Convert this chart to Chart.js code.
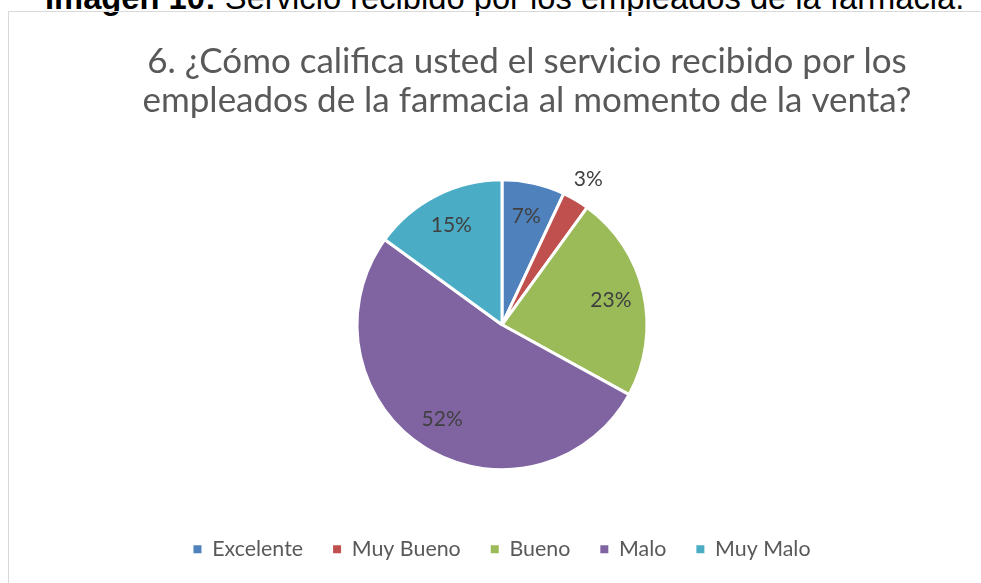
<!DOCTYPE html>
<html><head><meta charset="utf-8">
<script src="https://cdn.jsdelivr.net/npm/chart.js@4/dist/chart.umd.min.js"></script>
<style>
html,body{margin:0;padding:0;background:#fff;overflow:hidden;width:981px;height:583px}
#cap{position:absolute;left:45px;top:-21px;font-family:"Liberation Sans",Arial,sans-serif;font-size:32.7px;line-height:38px;white-space:nowrap;color:#000}
#frame{position:absolute;left:8px;top:11px;width:1100px;height:700px;border:1px solid #d9d9d9;box-sizing:border-box}
#wrap{position:absolute;left:0;top:0;width:981px;height:583px}
</style></head><body>
<div id="cap"><b>Imagen 10:</b> Servicio recibido por los empleados de la farmacia.</div>
<div id="frame"></div>
<div id="wrap"><canvas id="c" width="981" height="583"></canvas></div>
<script>
const categories = ['Excelente', 'Muy Bueno', 'Bueno', 'Malo', 'Muy Malo'];
const values = [7, 3, 23, 52, 15];
const colors = ['#4f81bd', '#c0504d', '#9bbb59', '#8064a2', '#4bacc6'];
const titleLines = ['6. ¿Cómo califica usted el servicio recibido por los', 'empleados de la farmacia al momento de la venta?'];

const FONT = 'Lato';

const pctLabels = {
  id: 'pctLabels',
  afterDatasetsDraw(chart) {
    const ctx = chart.ctx;
    const meta = chart.getDatasetMeta(0);
    const total = values.reduce((a, b) => a + b, 0);
    ctx.save();
    ctx.font = '21px ' + FONT;
    ctx.fillStyle = '#404040';
    ctx.textAlign = 'center';
    ctx.textBaseline = 'middle';
    meta.data.forEach((arc, i) => {
      const p = arc.getProps(['x', 'y', 'startAngle', 'endAngle', 'outerRadius'], true);
      const mid = (p.startAngle + p.endAngle) / 2;
      const pct = Math.round(values[i] / total * 100);
      const f = pct < 5 ? 1.17 : 0.77;
      const r = p.outerRadius * f;
      ctx.fillText(pct + '%', p.x + Math.cos(mid) * r, p.y + Math.sin(mid) * r);
    });
    ctx.restore();
  }
};

new Chart(document.getElementById('c'), {
  type: 'pie',
  data: {
    labels: categories,
    datasets: [{
      data: values,
      backgroundColor: colors,
      borderColor: '#ffffff',
      borderWidth: 3
    }]
  },
  options: {
    responsive: false,
    animation: false,
    radius: 145,
    layout: { padding: { left: 73, right: 0, top: 0, bottom: 13 } },
    plugins: {
      tooltip: { enabled: false },
      title: {
        display: true,
        text: titleLines,
        color: '#595959',
        font: { family: FONT, size: 35, weight: 'normal', lineHeight: '39px' },
        padding: { top: 42.5, bottom: 20.5 }
      },
      subtitle: {
        display: true,
        position: 'right',
        fullSize: false,
        text: '',
        font: { size: 10, lineHeight: '50px' },
        padding: { top: 0, bottom: 0 }
      },
      legend: {
        position: 'bottom',
        fullSize: false,
        labels: {
          color: '#595959',
          font: { family: FONT, size: 21.4 },
          boxWidth: 8,
          boxHeight: 8,
          usePointStyle: true,
          padding: 30,
          generateLabels: (chart) => chart.data.labels.map((l, i) => ({
            text: l, fillStyle: colors[i], strokeStyle: colors[i], lineWidth: 0,
            pointStyle: 'rect', hidden: false, index: i, fontColor: '#595959'
          }))
        }
      }
    }
  },
  plugins: [pctLabels]
});
</script>
</body></html>
